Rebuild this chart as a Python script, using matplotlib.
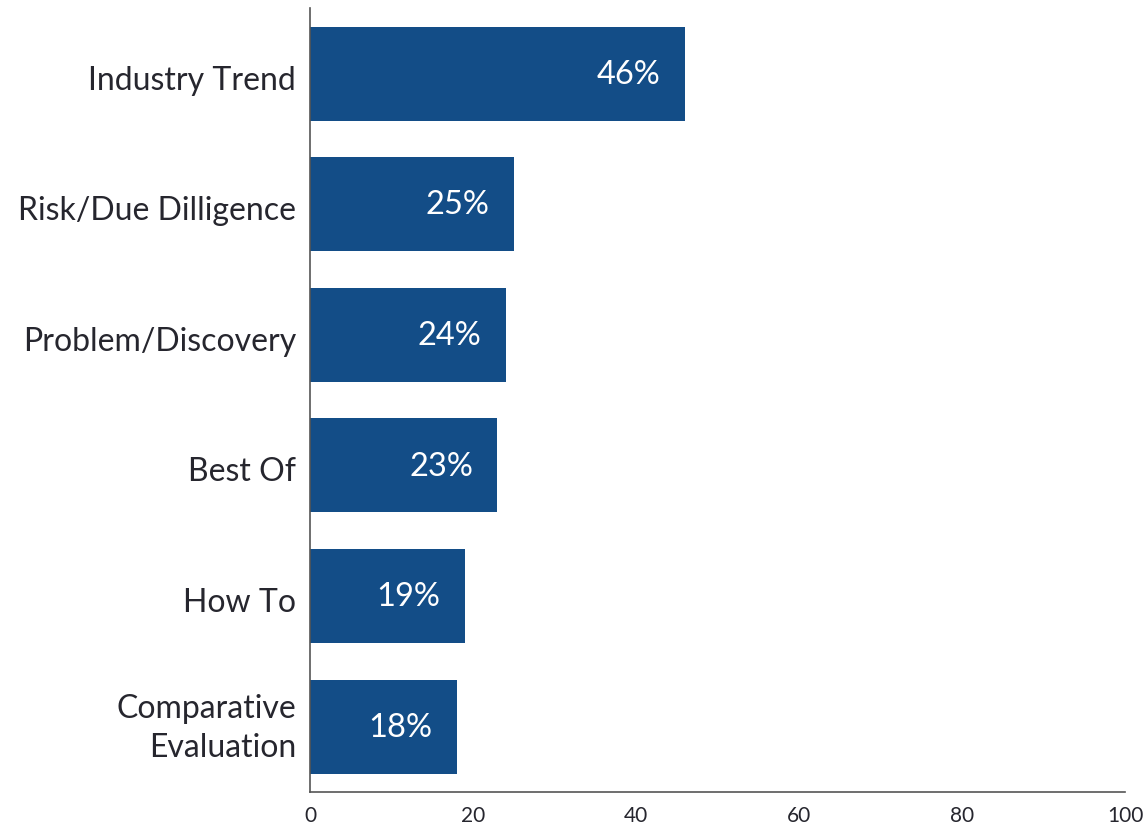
import matplotlib
matplotlib.use('Agg')
import matplotlib.pyplot as plt
import matplotlib.transforms as mtransforms

plt.rcParams['font.family'] = ['Lato', 'DejaVu Sans']

categories = ['Industry Trend', 'Risk/Due Dilligence', 'Problem/Discovery',
              'Best Of', 'How To', 'Comparative\nEvaluation']
values = [46, 25, 24, 23, 19, 18]
xticks = [0, 20, 40, 60, 80, 100]

bar_color = '#134d87'
text_color = '#26262e'

fig = plt.figure(figsize=(11.48, 8.25), dpi=100)
ax = fig.add_axes([0.270, 0.040, 0.710, 0.950])

pos = list(range(len(categories)))
ax.barh(pos, values, height=0.72, color=bar_color)

for p, v in zip(pos, values):
    ax.text(v - 3, p + 0.01, f'{v}%', color='white', fontsize=23.5,
            ha='right', va='center')

ax.set_xlim(0, 100)
ax.set_ylim(len(categories) - 0.5, -0.5)
ax.set_xticks(xticks)
ax.set_xticklabels([str(t) for t in xticks], fontsize=15, color=text_color)
ax.set_yticks(pos)
ax.set_yticklabels(categories, fontsize=23, color=text_color,
                   multialignment='right', linespacing=1.4)
ax.tick_params(axis='both', length=0)
ax.tick_params(axis='x', pad=10)
ax.tick_params(axis='y', pad=10)

# nudge category labels a little lower (two-line one a bit higher), as in the original
for lbl in ax.get_yticklabels():
    dy = 6 if '\n' in lbl.get_text() else -4
    shift = mtransforms.ScaledTranslation(0, dy / 100, fig.dpi_scale_trans)
    lbl.set_transform(lbl.get_transform() + shift)

for s in ['top', 'right']:
    ax.spines[s].set_visible(False)
for s in ['left', 'bottom']:
    ax.spines[s].set_color('#555555')
    ax.spines[s].set_linewidth(1.2)

fig.savefig('out.png', dpi=100)
